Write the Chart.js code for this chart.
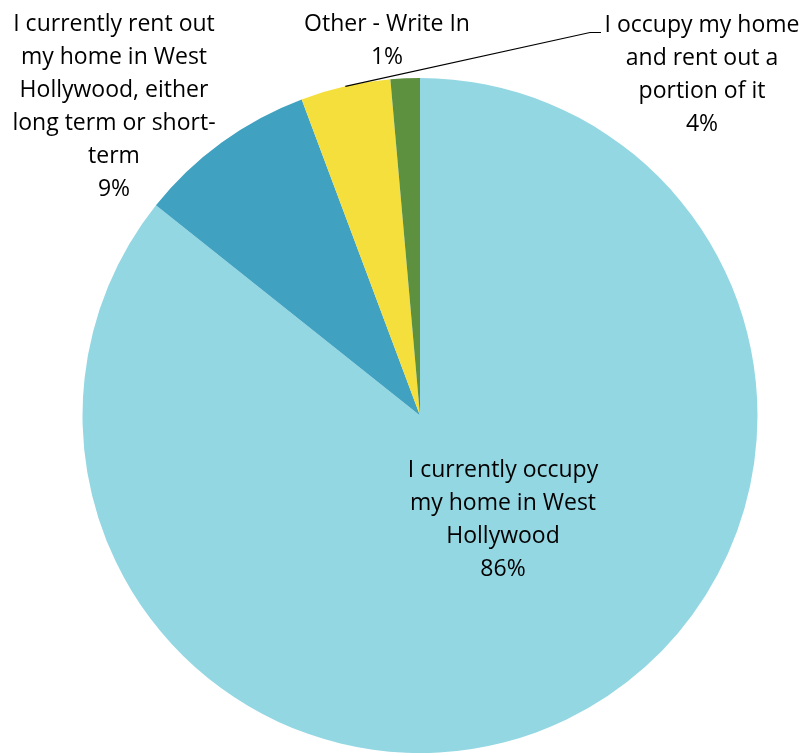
<!DOCTYPE html>
<html>
<head>
<meta charset="utf-8">
<script src="https://cdn.jsdelivr.net/npm/chart.js@4/dist/chart.umd.min.js"></script>
<style>
  html, body { margin: 0; padding: 0; background: #ffffff; }
  #wrap { width: 807px; height: 753px; }
</style>
</head>
<body>
<div id="wrap"><canvas id="pie" width="807" height="753"></canvas></div>
<script>
// Housing status of respondents (share of responses, %)
const categories = [
  ["I currently occupy", "my home in West", "Hollywood"],
  ["I currently rent out", "my home in West", "Hollywood, either", "long term or short-", "term"],
  ["I occupy my home", "and rent out a", "portion of it"],
  ["Other - Write In"]
];
const shares = [85.7, 8.6, 4.3, 1.4];
const sliceColors = ["#93D7E3", "#40A1C1", "#F4DF3C", "#5E913F"];

// Where each slice's label block is centred, plus whether it gets a leader line
const labelPlacement = [
  { x: 503, y: 520, leader: false },
  { x: 114, y: 107, leader: false },
  { x: 702, y: 75,  leader: true, elbowX: 590, endX: 601 },
  { x: 387, y: 41,  leader: false }
];

const FONT = '23px "Open Sans", "Noto Sans", sans-serif';
const LINE_H = 33;

const sliceLabels = {
  id: 'sliceLabels',
  afterDatasetsDraw(chart) {
    const ctx = chart.ctx;
    const meta = chart.getDatasetMeta(0);
    ctx.save();
    ctx.font = FONT;
    ctx.fillStyle = '#000000';
    ctx.textAlign = 'center';
    ctx.textBaseline = 'middle';
    meta.data.forEach((arc, i) => {
      const lines = categories[i].concat([Math.round(shares[i]) + '%']);
      const p = labelPlacement[i];
      const top = p.y - (lines.length - 1) * LINE_H / 2;
      lines.forEach((t, k) => ctx.fillText(t, p.x, top + k * LINE_H));
      if (p.leader) {
        const a = (arc.startAngle + arc.endAngle) / 2;
        const sx = arc.x + Math.cos(a) * arc.outerRadius;
        const sy = arc.y + Math.sin(a) * arc.outerRadius;
        const ly = top + 7;
        ctx.beginPath();
        ctx.strokeStyle = '#000000';
        ctx.lineWidth = 1.2;
        ctx.moveTo(sx, sy);
        ctx.lineTo(p.elbowX, ly);
        ctx.lineTo(p.endX, ly);
        ctx.stroke();
      }
    });
    ctx.restore();
  }
};

new Chart(document.getElementById('pie'), {
  type: 'pie',
  data: {
    labels: categories.map(c => c.join(' ')),
    datasets: [{
      data: shares,
      backgroundColor: sliceColors,
      borderWidth: 0
    }]
  },
  options: {
    responsive: false,
    animation: false,
    layout: { padding: { left: 82, right: 49, top: 78, bottom: 0 } },
    plugins: {
      legend: { display: false },
      tooltip: { enabled: false }
    }
  },
  plugins: [sliceLabels]
});
</script>
</body>
</html>
